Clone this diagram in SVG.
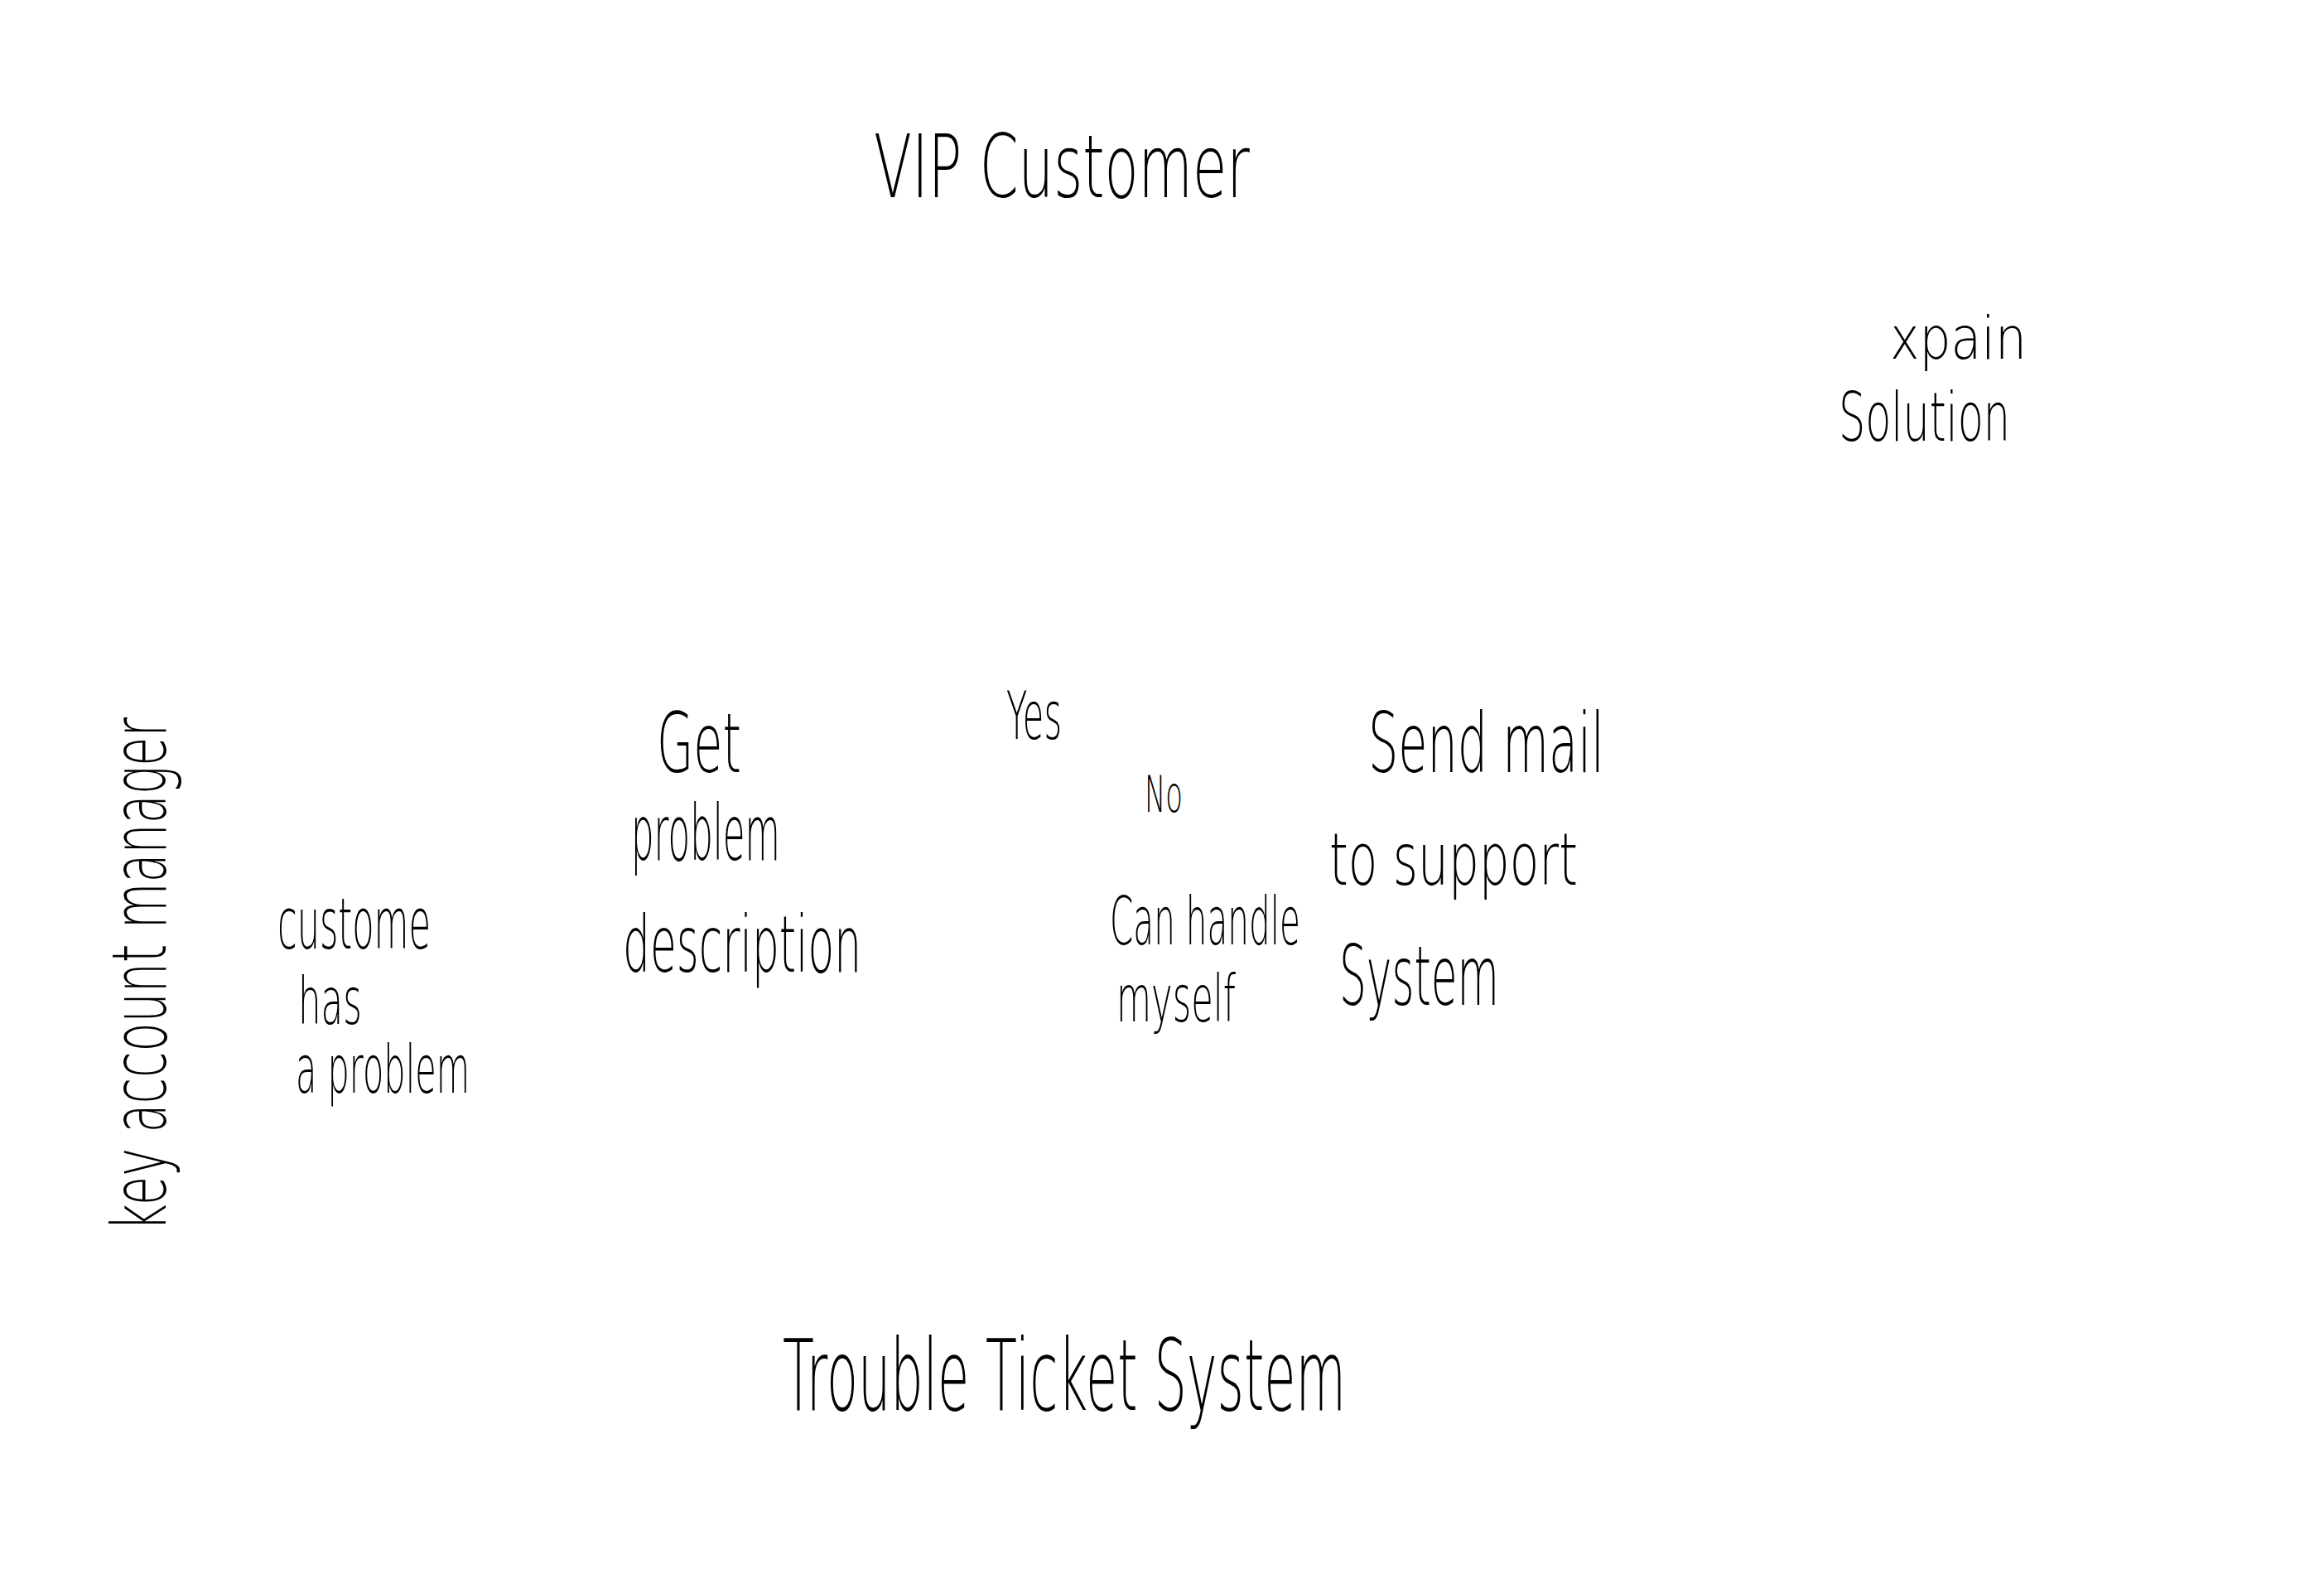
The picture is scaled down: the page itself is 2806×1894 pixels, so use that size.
<svg xmlns="http://www.w3.org/2000/svg" width="2806" height="1894" viewBox="0 0 2806 1894">
<style>
text{font-family:"DejaVu Sans","Liberation Sans",sans-serif;font-weight:200;fill:#000;}
</style>
<rect x="0" y="0" width="2806" height="1894" fill="#fff"/>
<g id="connectors"></g>
<g id="lane-vip-customer"><text x="1055" y="238" font-size="105" textLength="454" lengthAdjust="spacingAndGlyphs">VIP Customer</text></g>
<g id="lane-key-account-manager"><text transform="translate(200,1486) rotate(-90)" x="0" y="0" font-size="90" textLength="620" lengthAdjust="spacingAndGlyphs">key account manager</text></g>
<g id="lane-trouble-ticket-system"><text x="945" y="1702" font-size="120" textLength="680" lengthAdjust="spacingAndGlyphs">Trouble Ticket System</text></g>
<g id="node-xpain-solution">
<text x="2282" y="433" font-size="72" textLength="165" lengthAdjust="spacingAndGlyphs">xpain</text>
<text x="2220" y="532" font-size="82" textLength="207" lengthAdjust="spacingAndGlyphs">Solution</text>
</g>
<g id="node-customer-has-problem">
<text x="335" y="1145" font-size="86" textLength="185" lengthAdjust="spacingAndGlyphs">custome</text>
<text x="360" y="1236" font-size="78" textLength="77" lengthAdjust="spacingAndGlyphs">has</text>
<text x="357" y="1319" font-size="80" textLength="210" lengthAdjust="spacingAndGlyphs">a problem</text>
</g>
<g id="node-get-problem-description">
<text x="793" y="932" font-size="100" textLength="102" lengthAdjust="spacingAndGlyphs">Get</text>
<text x="762" y="1038" font-size="92" textLength="180" lengthAdjust="spacingAndGlyphs">problem</text>
<text x="752" y="1173" font-size="95" textLength="288" lengthAdjust="spacingAndGlyphs">description</text>
</g>
<g id="label-yes"><text x="1215" y="892" font-size="80" textLength="67" lengthAdjust="spacingAndGlyphs">Yes</text></g>
<g id="label-no"><text x="1382" y="980" font-size="60" textLength="46" lengthAdjust="spacingAndGlyphs">No</text></g>
<g id="node-can-handle-myself">
<text x="1340" y="1140" font-size="80" textLength="230" lengthAdjust="spacingAndGlyphs">Can handle</text>
<text x="1348" y="1233" font-size="78" textLength="144" lengthAdjust="spacingAndGlyphs">myself</text>
</g>
<g id="node-send-mail">
<text x="1652" y="932" font-size="100" textLength="285" lengthAdjust="spacingAndGlyphs">Send mail</text>
<text x="1605" y="1068" font-size="88" textLength="300" lengthAdjust="spacingAndGlyphs">to support</text>
<text x="1617" y="1213" font-size="100" textLength="193" lengthAdjust="spacingAndGlyphs">System</text>
</g>
</svg>
